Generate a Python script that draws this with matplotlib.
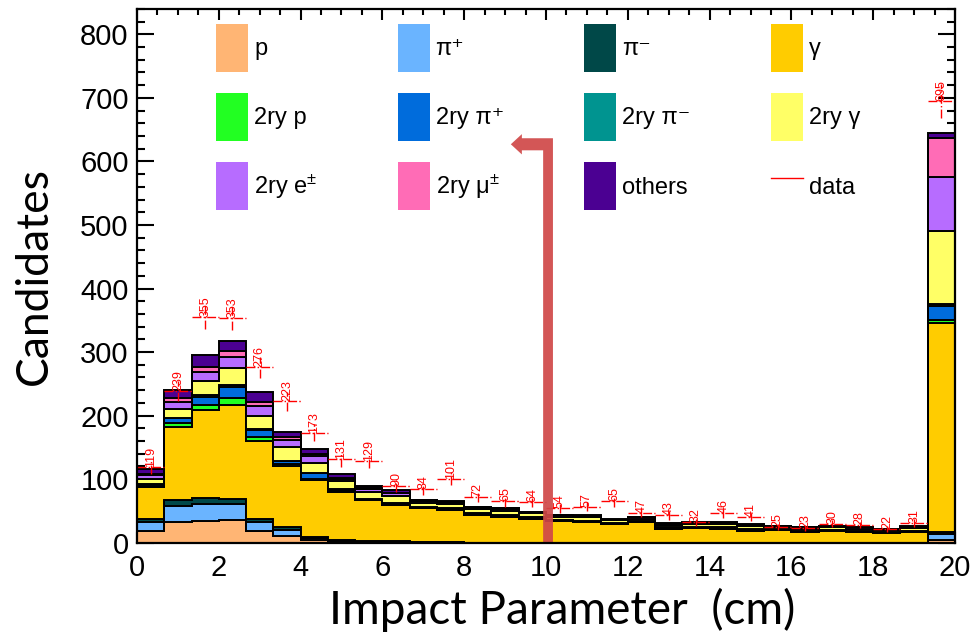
import numpy as np
import matplotlib.pyplot as plt
from matplotlib.patches import Patch, Polygon
from matplotlib.lines import Line2D
from matplotlib.ticker import MultipleLocator

plt.rcParams['mathtext.fontset'] = 'custom'
plt.rcParams['mathtext.rm'] = 'Liberation Sans'
plt.rcParams['mathtext.it'] = 'Liberation Sans:italic'

# 30 bins of 2/3 cm from 0 to 20 cm (last bin holds overflow)
bin_edges = np.linspace(0, 20, 31)

# stacked MC components, bottom to top
p_prim =   [19, 33, 34, 36, 18, 10, 4, 1, 1, 0, 0, 0, 0, 0, 0, 0, 0, 0, 0, 0, 0, 0, 0, 0, 0, 0, 0, 0, 0, 5]
pip_prim = [13, 25, 27, 25, 14, 10, 3, 2, 1, 1, 1, 1, 0, 0, 0, 0, 0, 0, 0, 0, 0, 0, 0, 0, 0, 0, 0, 0, 0, 9]
pim_prim = [6, 10, 9, 8, 6, 5, 2, 2, 1, 1, 0, 0, 0, 0, 0, 0, 0, 0, 0, 0, 0, 0, 0, 0, 0, 0, 0, 0, 0, 3]
gam_prim = [50, 114, 139, 148, 122, 95, 90, 75, 64, 58, 54, 51, 44, 41, 38, 34, 32, 30, 32, 22, 23, 22, 19, 20, 17, 18, 17, 15, 17, 328]
p_sec =    [2, 6, 8, 10, 7, 4, 2, 1, 1, 1, 1, 1, 1, 1, 1, 1, 1, 0, 1, 1, 1, 1, 1, 1, 1, 1, 1, 1, 1, 6]
pip_sec =  [2, 8, 13, 18, 11, 4, 8, 2, 1, 1, 1, 1, 1, 1, 1, 1, 1, 1, 1, 1, 1, 1, 1, 0, 1, 1, 1, 1, 1, 22]
pim_sec =  [1, 1, 2, 3, 1, 1, 1, 1, 0, 0, 0, 0, 0, 0, 0, 0, 0, 0, 0, 0, 0, 0, 0, 0, 0, 0, 0, 0, 0, 2]
gam_sec =  [8, 14, 22, 27, 21, 21, 15, 13, 11, 11, 6, 7, 7, 7, 6, 5, 6, 4, 4, 4, 4, 5, 5, 3, 3, 4, 3, 3, 4, 115]
e_sec =    [5, 11, 15, 17, 15, 12, 11, 4, 5, 5, 3, 2, 2, 3, 2, 2, 2, 1, 2, 2, 2, 2, 2, 2, 2, 2, 2, 1, 2, 85]
mu_sec =   [2, 6, 8, 9, 7, 5, 4, 1, 1, 1, 1, 1, 1, 1, 0, 0, 0, 0, 0, 0, 0, 0, 0, 0, 0, 0, 0, 0, 0, 62]
others =   [8, 13, 19, 17, 15, 7, 8, 6, 4, 4, 1, 1, 1, 1, 1, 1, 1, 1, 1, 1, 1, 1, 1, 1, 1, 1, 1, 1, 1, 7]

data_counts = [119, 239, 355, 353, 276, 223, 173, 131, 129, 90, 84, 101, 72, 65, 64,
               54, 57, 65, 47, 43, 32, 46, 41, 25, 23, 30, 28, 22, 31, 695]

labels = ['p', 'π⁺', 'π⁻', 'γ', '2ry p', '2ry π⁺', '2ry π⁻', '2ry γ',
          '2ry e$^{\\pm}$', '2ry μ$^{\\pm}$', 'others']
colors = ['#ffb574', '#6ab4ff', '#004848', '#ffcc00', '#22ff22', '#006cdc',
          '#009490', '#ffff66', '#b76cff', '#ff6cb6', '#4b0092']
components = [p_prim, pip_prim, pim_prim, gam_prim, p_sec, pip_sec, pim_sec,
              gam_sec, e_sec, mu_sec, others]

cut_x = 10.05  # selection cut marked by the arrow

fig = plt.figure(figsize=(9.75, 6.37), dpi=100)
ax = fig.add_axes([0.1405, 0.148, 0.839, 0.838])

bottom = np.zeros(len(data_counts))
for vals, col in zip(components, colors):
    top = bottom + np.array(vals)
    ax.stairs(top, bin_edges, baseline=bottom, fill=True, facecolor=col,
              edgecolor='black', linewidth=1.4, zorder=2)
    bottom = top

# data points
data = np.array(data_counts, dtype=float)
centers = 0.5 * (bin_edges[:-1] + bin_edges[1:])
err = np.sqrt(data)
ax.hlines(data, bin_edges[:-1], bin_edges[1:], colors='red', linestyles='-.', linewidth=1.0, zorder=4)
ax.vlines(centers, data - err, data + err, colors='red', linestyles='-.', linewidth=1.0, zorder=4)
for c, d in zip(centers, data_counts):
    ax.text(c, d, str(d), rotation=90, ha='center', va='bottom', fontsize=9,
            color='red', family='Liberation Sans', zorder=5)

# arrow showing the cut
ay = 627
arrow = Polygon([(cut_x - 0.12, 0), (cut_x + 0.12, 0), (cut_x + 0.12, ay + 9.5),
                 (9.41, ay + 9.5), (9.41, ay + 16), (9.14, ay), (9.41, ay - 16),
                 (9.41, ay - 9.5), (cut_x - 0.12, ay - 9.5)],
                closed=True, facecolor='#d04848', edgecolor='none', alpha=0.92, zorder=6)
ax.add_patch(arrow)

ax.set_xlim(0, 20)
ax.set_ylim(0, 840)
ax.xaxis.set_major_locator(MultipleLocator(2))
ax.xaxis.set_minor_locator(MultipleLocator(0.5))
ax.yaxis.set_major_locator(MultipleLocator(100))
ax.yaxis.set_minor_locator(MultipleLocator(20))
ax.tick_params(axis='both', which='both', direction='in', top=True, right=True, width=1.5)
ax.tick_params(axis='x', which='major', length=8, pad=8)
ax.tick_params(axis='x', which='minor', length=4.5)
ax.tick_params(axis='y', which='major', length=12.5, pad=6)
ax.tick_params(axis='y', which='minor', length=6)
for lab in ax.get_xticklabels() + ax.get_yticklabels():
    lab.set_family('Liberation Sans')
    lab.set_fontsize(21)
for s in ax.spines.values():
    s.set_linewidth(1.6)
    s.set_zorder(7)

ax.set_xlabel('Impact Parameter  (cm)', fontsize=33, family='Lato')
ax.set_ylabel('Candidates', fontsize=32, family='Lato')
ax.xaxis.set_label_coords(0.52, -0.085)
ax.yaxis.set_label_coords(-0.10, 0.5)

# legend, filled row by row as in the original
handles = [Patch(facecolor=c, edgecolor='none') for c in colors]
handles.append(Line2D([], [], color='red', linewidth=1.0))
names = labels + ['data']
order = [0, 4, 8, 1, 5, 9, 2, 6, 10, 3, 7, 11]
leg = ax.legend([handles[i] for i in order], [names[i] for i in order], ncol=4,
                loc='upper left', bbox_to_anchor=(216 / 975, 1 - 24 / 637),
                bbox_transform=fig.transFigure, frameon=False, borderpad=0,
                borderaxespad=0, handlelength=1.36, handleheight=2.75,
                handletextpad=0.25, labelspacing=0.9, columnspacing=3.4,
                prop={'family': ['Liberation Sans', 'DejaVu Sans'], 'size': 17})

fig.savefig('out.png', dpi=100)
